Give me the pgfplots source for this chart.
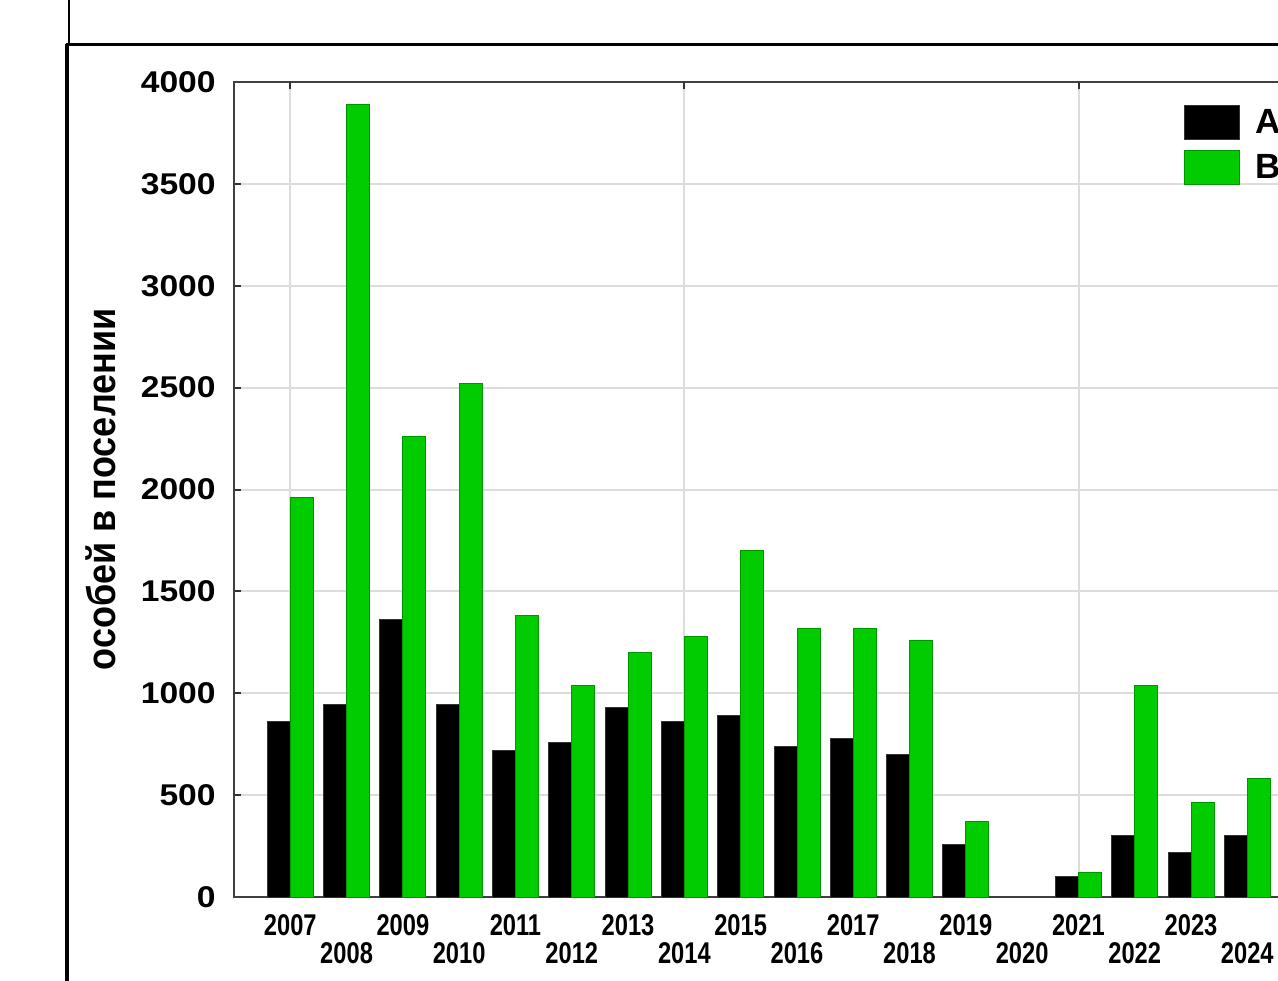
\documentclass[border=0pt]{standalone}
\usepackage{fontspec}
\setmainfont{Liberation Sans}
\usepackage{pgfplots}
\pgfplotsset{compat=1.18}
\newfontfamily\yfont[FakeStretch=1.12]{Liberation Sans}
\newfontfamily\xfont[FakeStretch=0.79]{Liberation Sans}
\newfontfamily\lfont[FakeStretch=0.9]{Liberation Sans}
\definecolor{bargreen}{RGB}{0,204,0}
\definecolor{bargreenedge}{RGB}{0,150,0}
\definecolor{gridgray}{RGB}{220,220,220}
\newcommand\lo[1]{\raisebox{-14pt}{#1}}
\pgfplotsset{/pgfplots/ybar legend/.style={/pgfplots/legend image code/.code={\draw[##1, line width=0.5pt] (0pt,-8.5pt) rectangle (27.5pt,8.5pt);}}}
\begin{document}
\begin{tikzpicture}
\path[use as bounding box] (0,0) rectangle (639pt,490pt);
\clip (0,0) rectangle (639pt,490pt);
\fill[white] (0,0) rectangle (639pt,490pt);
\begin{axis}[
  at={(117pt,41.5pt)}, anchor=south west,
  scale only axis, width=534.85pt, height=407.5pt,
  xmin=2006, xmax=2025, ymin=0, ymax=4000,
  enlarge x limits=false, enlarge y limits=false,
  ybar=0pt, bar width=11.5pt,
  axis line style={draw=black!75, line width=1pt},
  tick align=inside,
  xtick={2007,...,2024},
  xticklabels={2007,\lo{2008},2009,\lo{2010},2011,\lo{2012},2013,\lo{2014},2015,\lo{2016},2017,\lo{2018},2019,\lo{2020},2021,\lo{2022},2023,\lo{2024}},
  xtick style={draw=none},
  xtick pos=upper, xticklabel pos=lower,
  extra x ticks={2007,2014,2021},
  extra x tick labels={},
  extra x tick style={grid=major, tick align=inside, xtick style={draw=black!80, line width=1pt}},
  ytick={0,500,...,4000},
  ytick pos=left,
  ymajorgrids=true,
  grid style={gridgray, line width=1pt},
  major tick length=3.5pt,
  ytick style={draw=black!80, line width=1pt},
  /pgf/number format/assume math mode=true,
  /pgf/number format/1000 sep={},
  yticklabel style={font=\yfont\bfseries\fontsize{15pt}{15pt}\selectfont, anchor=east, inner sep=0pt, xshift=-9pt},
  xticklabel style={font=\xfont\bfseries\fontsize{15pt}{15pt}\selectfont, anchor=base, inner sep=0pt, yshift=-19pt},
  ylabel={особей в поселении},
  every axis y label/.style={at={(axis description cs:-0.1108,0.5)}, rotate=90, anchor=base},
  ylabel style={font=\lfont\bfseries\fontsize{20pt}{20pt}\selectfont},
  legend style={at={(axis description cs:0.888,0.972)}, anchor=north west, draw=none, fill=none, inner sep=0pt, row sep=5pt, column sep=7.5pt, font=\bfseries\fontsize{17.5pt}{17.5pt}\selectfont, nodes={inner sep=0pt, anchor=west}},
  legend cell align=left,
]
\addplot[fill=black, draw=black!80, line width=0.5pt] coordinates {
(2007,860) (2008,945) (2009,1360) (2010,945) (2011,720) (2012,760) (2013,930) (2014,860) (2015,890) (2016,740) (2017,780) (2018,700) (2019,260) (2021,100) (2022,300) (2023,220) (2024,300)};
\addplot[fill=bargreen, draw=bargreenedge, line width=0.5pt] coordinates {
(2007,1960) (2008,3890) (2009,2260) (2010,2520) (2011,1380) (2012,1040) (2013,1200) (2014,1280) (2015,1700) (2016,1320) (2017,1320) (2018,1260) (2019,370) (2021,120) (2022,1040) (2023,465) (2024,580)};
\legend{A,B}
\end{axis}
\draw[line width=1pt, black] (34.5pt,490pt) -- (34.5pt,467.75pt);
\draw[line width=1.6pt, black] (33pt,467.75pt) -- (650pt,467.75pt);
\draw[line width=2pt, black] (33.5pt,467.75pt) -- (33.5pt,-5pt);
\end{tikzpicture}
\end{document}
